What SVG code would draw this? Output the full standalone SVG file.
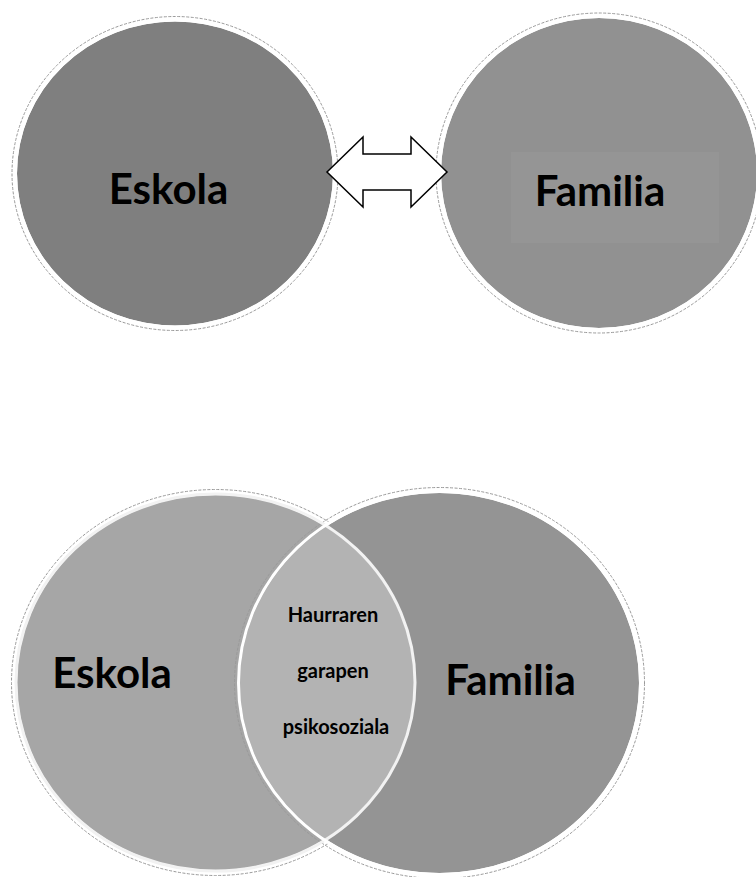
<svg xmlns="http://www.w3.org/2000/svg" width="756" height="877" viewBox="0 0 756 877">
<style>
.ring{fill:none;stroke:#ffffff;stroke-width:3}
.dash{fill:none;stroke:#9a9a9a;stroke-width:1;stroke-dasharray:3 1.5}
.big{font-family:Lato,"Liberation Sans",sans-serif;font-weight:bold;font-size:42px;fill:#000;text-anchor:middle}
.small{font-family:Lato,"Liberation Sans",sans-serif;font-weight:bold;font-size:20px;fill:#000;text-anchor:middle}
</style>
<defs>
<clipPath id="clipL"><ellipse cx="215.5" cy="682.5" rx="198.5" ry="187.5"/></clipPath>
</defs>
<rect width="756" height="877" fill="#ffffff"/>
<g id="top-eskola">
<ellipse cx="175" cy="173.5" rx="163" ry="157" class="dash"/>
<ellipse cx="175" cy="173.5" rx="158" ry="152" fill="#7f7f7f"/>
<ellipse cx="175" cy="173.5" rx="159.5" ry="153.5" class="ring"/>
<text x="168.5" y="204" class="big">Eskola</text>
</g>
<g id="top-familia">
<ellipse cx="599" cy="173" rx="163" ry="160" class="dash"/>
<ellipse cx="599" cy="173" rx="158" ry="155" fill="#919191"/>
<ellipse cx="599" cy="173" rx="159.5" ry="156.5" class="ring"/>
<rect x="511" y="152" width="208" height="91" fill="#959595"/>
<text x="600" y="206" class="big">Familia</text>
</g>
<g id="connectors">
<polygon points="327,172 363,137 363,154 411,154 411,137 447,172 411,207 411,190 363,190 363,207" fill="#ffffff" stroke="#000000" stroke-width="1.5" stroke-linejoin="miter"/>
</g>
<g id="venn-eskola">
<ellipse cx="215.5" cy="682.5" rx="204" ry="193" class="dash"/>
<ellipse cx="215.5" cy="682.5" rx="198.5" ry="187.5" fill="#a6a6a6"/>
</g>
<g id="venn-familia">
<ellipse cx="439.5" cy="683" rx="205" ry="195.5" class="dash"/>
<ellipse cx="439.5" cy="683" rx="199.5" ry="190" fill="#949494"/>
</g>
<g id="venn-overlap">
<ellipse cx="439.5" cy="683" rx="199.5" ry="190" fill="#b3b3b3" clip-path="url(#clipL)"/>
<ellipse cx="215.5" cy="682.5" rx="199.5" ry="188.5" fill="none" stroke="#f2f2f2" stroke-width="3"/>
<ellipse cx="439.5" cy="683" rx="201" ry="191.5" class="ring"/>
<text x="333" y="622" class="small">Haurraren</text>
<text x="333" y="678" class="small">garapen</text>
<text x="336" y="734" class="small">psikosoziala</text>
</g>
<g id="venn-labels">
<text x="112" y="688" class="big">Eskola</text>
<text x="510.5" y="695" class="big">Familia</text>
</g>
</svg>
